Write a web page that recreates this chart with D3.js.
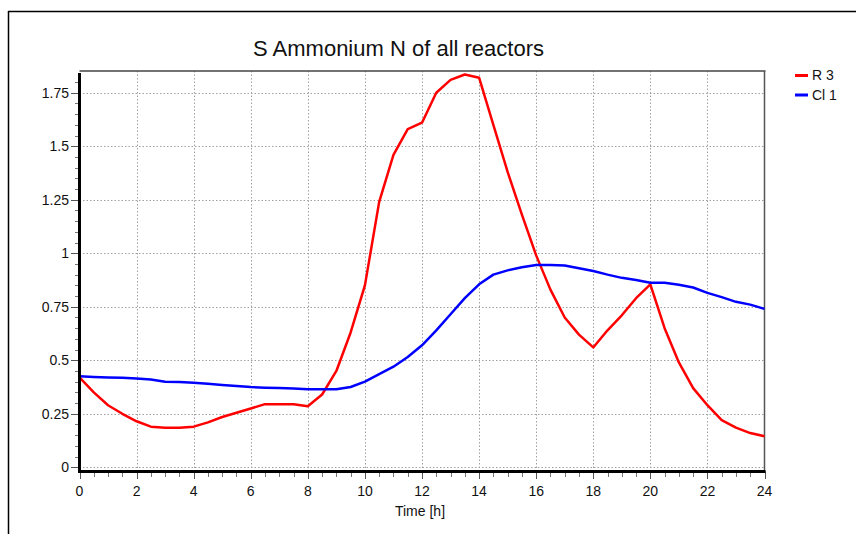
<!DOCTYPE html>
<html>
<head>
<meta charset="utf-8">
<script src="https://cdn.jsdelivr.net/npm/d3@7/dist/d3.min.js"></script>
<style>
  html, body { margin: 0; padding: 0; background: #fff; }
  svg { display: block; font-family: "Liberation Sans", Arial, sans-serif; }
</style>
</head>
<body>
<svg id="chart" width="856" height="534"></svg>
<script>
// Time axis (hours), sampled every half hour
const hours = d3.range(0, 24.01, 0.5);

// Ammonium N concentration, reactor R 3
const r3Values = [
  0.42, 0.35, 0.29, 0.25, 0.215, 0.19, 0.185, 0.185, 0.19, 0.21,
  0.235, 0.255, 0.275, 0.295, 0.295, 0.295, 0.285, 0.34, 0.45, 0.63,
  0.85, 1.24, 1.46, 1.58, 1.61, 1.75, 1.81, 1.835, 1.82, 1.60,
  1.38, 1.18, 0.99, 0.83, 0.70, 0.62, 0.56, 0.64, 0.71, 0.79,
  0.855, 0.65, 0.49, 0.37, 0.29, 0.22, 0.185, 0.16, 0.145
];

// Ammonium N concentration, clarifier Cl 1
const cl1Values = [
  0.425, 0.422, 0.42, 0.418, 0.415, 0.41, 0.40, 0.398, 0.395, 0.39,
  0.385, 0.38, 0.375, 0.372, 0.37, 0.368, 0.365, 0.365, 0.365, 0.375,
  0.40, 0.435, 0.47, 0.515, 0.57, 0.64, 0.715, 0.79, 0.855, 0.90,
  0.92, 0.935, 0.945, 0.945, 0.943, 0.93, 0.917, 0.90, 0.885, 0.875,
  0.862, 0.862, 0.853, 0.84, 0.815, 0.795, 0.773, 0.76, 0.74
];

const seriesNames = ["R 3", "Cl 1"];
const seriesColors = ["#ff0000", "#0000ff"];
const xTicks = d3.range(0, 25, 2);
const yTicks = [0, 0.25, 0.5, 0.75, 1, 1.25, 1.5, 1.75];
const yTickLabels = ["0", "0.25", "0.5", "0.75", "1", "1.25", "1.5", "1.75"];

const svg = d3.select("#chart");

// Plot box
const plotLeft = 79.5, plotRight = 764.5, plotTop = 71, plotBottom = 471.5;
const x = d3.scaleLinear().domain([0, 24]).range([plotLeft, plotRight]);
const y = d3.scaleLinear().domain([0, 1.75]).range([467.3, 92.7]);

// Outer frame (top and left edges)
svg.append("line").attr("x1", 8).attr("x2", 856).attr("y1", 11.5).attr("y2", 11.5)
  .attr("stroke", "#000").attr("stroke-width", 1.5);
svg.append("line").attr("x1", 8.5).attr("x2", 8.5).attr("y1", 11).attr("y2", 534)
  .attr("stroke", "#000").attr("stroke-width", 1.5);

// Title
svg.append("text").attr("x", 398.5).attr("y", 56).attr("text-anchor", "middle")
  .attr("font-size", 22).attr("fill", "#111").text("S Ammonium N of all reactors");

// Grid
const grid = svg.append("g").attr("stroke", "#a0a0a0").attr("stroke-width", 1)
  .attr("stroke-dasharray", "1.5,2");
grid.selectAll("line.v").data(xTicks.filter(d => d > 0 && d < 24)).join("line")
  .attr("x1", d => Math.round(x(d)) + 0.5).attr("x2", d => Math.round(x(d)) + 0.5)
  .attr("y1", plotTop).attr("y2", plotBottom);
grid.selectAll("line.h").data(yTicks).join("line")
  .attr("x1", plotLeft).attr("x2", plotRight)
  .attr("y1", d => Math.round(y(d)) + 0.5).attr("y2", d => Math.round(y(d)) + 0.5);

// Top and right borders
svg.append("line").attr("x1", plotLeft).attr("x2", plotRight + 1).attr("y1", plotTop).attr("y2", plotTop)
  .attr("stroke", "#444").attr("stroke-width", 1.5);
svg.append("line").attr("x1", plotRight).attr("x2", plotRight).attr("y1", plotTop).attr("y2", plotBottom)
  .attr("stroke", "#555").attr("stroke-width", 1.5);

// Y axis ticks and labels
const yAxis = svg.append("g");
yAxis.selectAll("line.minor").data(d3.range(0, 1.8001, 0.05)).join("line")
  .attr("x1", 75).attr("x2", plotLeft)
  .attr("y1", d => Math.round(y(d)) + 0.5).attr("y2", d => Math.round(y(d)) + 0.5)
  .attr("stroke", "#777").attr("stroke-width", 1);
yAxis.selectAll("line.major").data(yTicks).join("line")
  .attr("x1", 71).attr("x2", plotLeft)
  .attr("y1", d => Math.round(y(d)) + 0.5).attr("y2", d => Math.round(y(d)) + 0.5)
  .attr("stroke", "#555").attr("stroke-width", 1);
yAxis.selectAll("text").data(yTicks).join("text")
  .attr("x", 69).attr("y", d => y(d)).attr("dy", "0.35em")
  .attr("text-anchor", "end").attr("font-size", 14).attr("fill", "#111")
  .text((d, i) => yTickLabels[i]);

// X axis ticks and labels
const xAxis = svg.append("g");
xAxis.selectAll("line.minor").data(d3.range(0, 24.01, 0.5)).join("line")
  .attr("x1", d => Math.round(x(d)) + 0.5).attr("x2", d => Math.round(x(d)) + 0.5)
  .attr("y1", plotBottom).attr("y2", 477)
  .attr("stroke", "#777").attr("stroke-width", 1);
xAxis.selectAll("line.major").data(xTicks).join("line")
  .attr("x1", d => Math.round(x(d)) + 0.5).attr("x2", d => Math.round(x(d)) + 0.5)
  .attr("y1", plotBottom).attr("y2", 479)
  .attr("stroke", "#555").attr("stroke-width", 1);
xAxis.selectAll("text").data(xTicks).join("text")
  .attr("x", d => x(d)).attr("y", 496)
  .attr("text-anchor", "middle").attr("font-size", 14).attr("fill", "#111")
  .text(d => d);
svg.append("text").attr("x", 420).attr("y", 516).attr("text-anchor", "middle")
  .attr("font-size", 14).attr("fill", "#111").text("Time [h]");

// Series lines
const line = d3.line().x((d, i) => x(hours[i])).y(d => y(d));
[r3Values, cl1Values].forEach((vals, k) => {
  svg.append("path").datum(vals).attr("d", line)
    .attr("fill", "none").attr("stroke", seriesColors[k])
    .attr("stroke-width", 2.5).attr("stroke-linejoin", "round");
});

// Heavy axis lines
svg.append("line").attr("x1", plotLeft).attr("x2", plotLeft).attr("y1", 73).attr("y2", plotBottom + 1.5)
  .attr("stroke", "#000").attr("stroke-width", 3);
svg.append("line").attr("x1", plotLeft - 1.5).attr("x2", plotRight + 1).attr("y1", plotBottom).attr("y2", plotBottom)
  .attr("stroke", "#000").attr("stroke-width", 3);

// Legend
const legend = svg.append("g");
seriesNames.forEach((name, k) => {
  const ly = 75.5 + k * 19.5;
  legend.append("line").attr("x1", 795).attr("x2", 808).attr("y1", ly).attr("y2", ly)
    .attr("stroke", seriesColors[k]).attr("stroke-width", 3);
  legend.append("text").attr("x", 812).attr("y", ly).attr("dy", "0.35em")
    .attr("font-size", 14).attr("fill", "#111").text(name);
});
</script>
</body>
</html>
